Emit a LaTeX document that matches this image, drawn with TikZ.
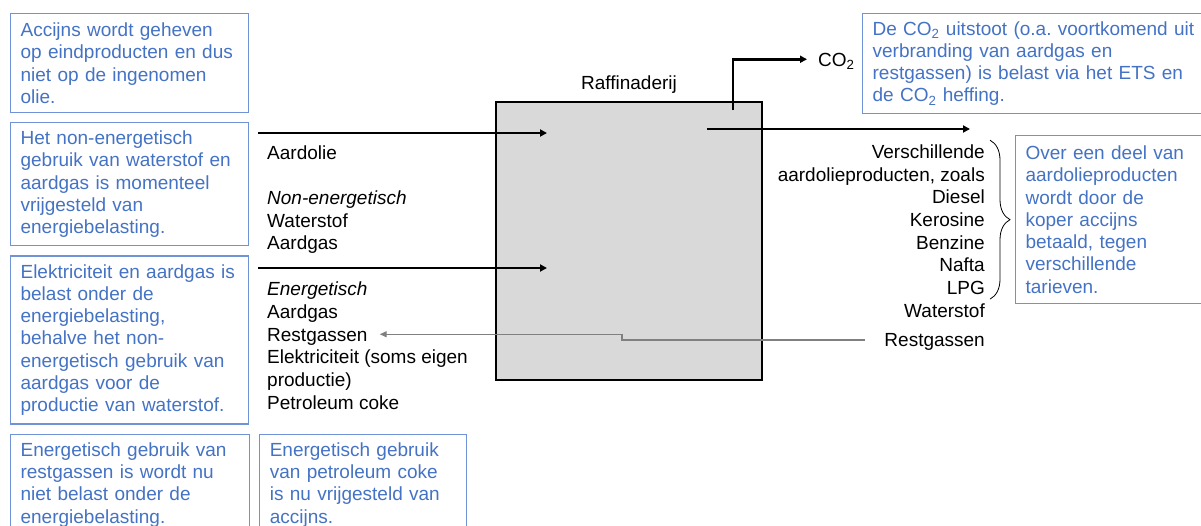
\documentclass[tikz,border=0pt]{standalone}
\usepackage{fontspec}
\setmainfont{Liberation Sans}
\usetikzlibrary{positioning, arrows.meta, decorations.pathreplacing}

\definecolor{noteblue}{RGB}{68,114,196}
\definecolor{noteline}{RGB}{112,146,214}
\definecolor{boxgray}{RGB}{217,217,217}
\definecolor{flowgray}{RGB}{128,128,128}

\begin{document}
\begin{tikzpicture}[
        x=1pt, y=-1pt,
        font=\fontsize{19}{22.3}\selectfont\frenchspacing,
        note/.style={rectangle, draw=noteline, line width=1.2pt, text=noteblue, align=left, anchor=north west, inner xsep=10pt, inner ysep=0pt},
        lbl/.style={inner sep=0pt, text height=17.9pt, text depth=4.4pt},
        arr/.style={-{Triangle[length=7pt, width=7pt]}, line width=2.7pt},
        back/.style={-{Triangle[length=7pt, width=6pt]}, line width=1.4pt, flowgray},
    ]
        \useasboundingbox (0,0) rectangle (1201,525);
        \clip (0,0) rectangle (1201,525);

        % Notes on the left
        \node[note, text width=218pt, minimum height=99pt] (accijns) at (10,13) {Accijns wordt geheven\\op eindproducten en dus\\niet op de ingenomen\\olie.};
        \node[note, text width=218pt, minimum height=123pt, below=9pt of accijns.south west, anchor=north west] (nonen) {Het non-energetisch\\gebruik van waterstof en\\aardgas is momenteel\\vrijgesteld van\\energiebelasting.};
        \node[note, text width=218pt, minimum height=168pt, below=9pt of nonen.south west, anchor=north west] (elek) {Elektriciteit en aardgas is\\belast onder de\\energiebelasting,\\behalve het non-\\energetisch gebruik van\\aardgas voor de\\productie van waterstof.};
        \node[note, text width=219pt, minimum height=101pt, below=9pt of elek.south west, anchor=north west] (restnote) {Energetisch gebruik van\\restgassen is wordt nu\\niet belast onder de\\energiebelasting.};
        \node[note, text width=187pt, minimum height=101pt, right=9pt of restnote.north east, anchor=north west] (cokenote) {Energetisch gebruik\\van petroleum coke\\is nu vrijgesteld van\\accijns.};

        % Notes on the right
        \node[note, text width=330pt, minimum height=100pt] (co2note) at (862,13) {De CO\textsubscript{2} uitstoot (o.a.\ voortkomend uit\\verbranding van aardgas en\\restgassen) is belast via het ETS en\\de CO\textsubscript{2} heffing.};
        \node[note, text width=200pt, minimum height=168pt] (overnote) at (1015,135) {Over een deel van\\aardolieproducten\\wordt door de\\koper accijns\\betaald, tegen\\verschillende\\tarieven.};

        % Refinery
        \node[draw, fill=boxgray, line width=1.2pt, inner sep=0pt, minimum width=266pt, minimum height=278pt] (raff) at (629,241) {};
        \node[lbl, above=7pt of raff] (rafflbl) {Raffinaderij};

        % Inputs
        \node[lbl, anchor=base west] (oil) at (267,159.5) {Aardolie};
        \node[lbl, below=22.3pt of oil.south west, anchor=north west] (nonenlbl) {\itshape Non-energetisch};
        \node[lbl, below=0pt of nonenlbl.south west, anchor=north west] (h2in) {Waterstof};
        \node[lbl, below=0pt of h2in.south west, anchor=north west] (gasin) {Aardgas};
        \node[lbl, below=23pt of gasin.south west, anchor=north west] (enlbl) {\itshape Energetisch};
        \node[lbl, below=0pt of enlbl.south west, anchor=north west] (gasen) {Aardgas};
        \node[lbl, below=0pt of gasen.south west, anchor=north west] (restin) {Restgassen};
        \node[lbl, below=0pt of restin.south west, anchor=north west] (power) {Elektriciteit (soms eigen};
        \node[lbl, below=0pt of power.south west, anchor=north west] (power2) {productie)};
        \node[lbl, below=0pt of power2.south west, anchor=north west] (coke) {Petroleum coke};

        % Outputs
        \node[lbl, anchor=base west] (co2) at (818,66) {CO\textsubscript{2}};
        \node[lbl, anchor=base east] (versch) at (985,158.3) {Verschillende};
        \node[lbl, below=0pt of versch.south east, anchor=north east] (zoals) {aardolieproducten, zoals};
        \node[lbl, below=0pt of zoals.south east, anchor=north east] (diesel) {Diesel};
        \node[lbl, below=0pt of diesel.south east, anchor=north east] (kero) {Kerosine};
        \node[lbl, below=0pt of kero.south east, anchor=north east] (benz) {Benzine};
        \node[lbl, below=0pt of benz.south east, anchor=north east] (nafta) {Nafta};
        \node[lbl, below=0pt of nafta.south east, anchor=north east] (lpg) {LPG};
        \node[lbl, below=0pt of lpg.south east, anchor=north east] (h2out) {Waterstof};
        \node[lbl, anchor=base east] (restout) at (985,346.7) {Restgassen};

        % Flow points
        \coordinate (oilsrc) at (258,133);
        \coordinate (oilend) at (547,133);
        \coordinate (ensrc) at (258,268);
        \coordinate (enend) at (547,268);
        \coordinate (flue) at (733,110);
        \coordinate (prodsrc) at (707,129);
        \coordinate (prodend) at (970,129);
        \coordinate (kink) at (622,0);

        % Arrows
        \draw[arr] (oilsrc) -- (oilend);
        \draw[arr] (ensrc) -- (enend);
        \draw[arr] (flue) |- ([xshift=-11pt]co2.west);
        \draw[arr] (prodsrc) -- (prodend);
        \draw[back] ([xshift=-19pt]restout.west) -- (restout.west -| kink) |- ([xshift=12pt]restin.east);

        % Brace for the products
        \draw[line width=0.8pt, decorate, decoration={brace, amplitude=20pt, aspect=0.5}] ([xshift=5pt]versch.north east) -- ([xshift=5pt]lpg.south east);
    \end{tikzpicture}
\end{document}
